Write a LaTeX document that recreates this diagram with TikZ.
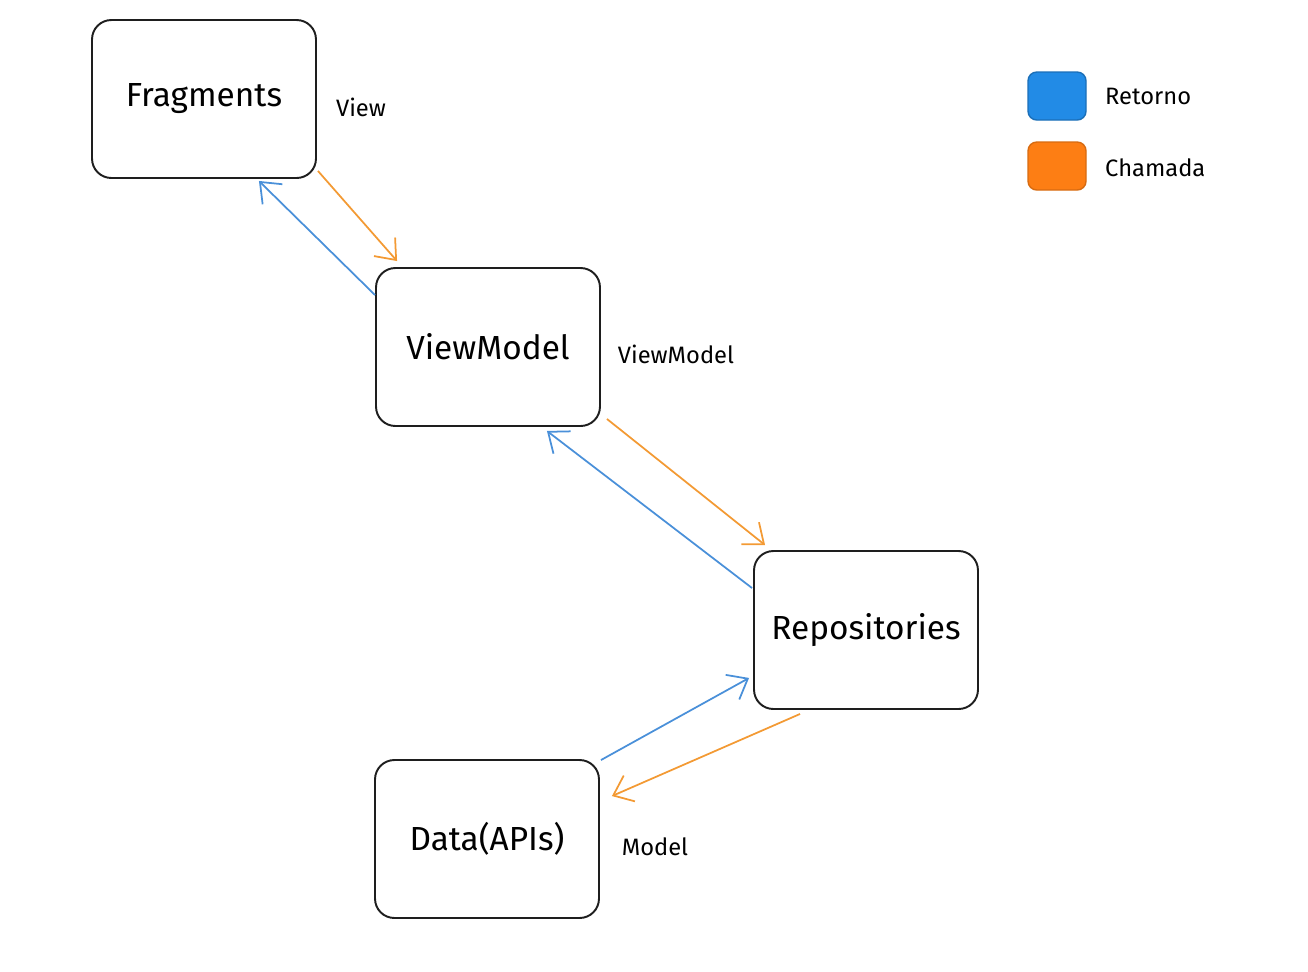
\documentclass[tikz,border=0pt]{standalone}
\usepackage{fontspec}
\setmainfont{Fira Sans}
\usetikzlibrary{calc, arrows.meta}

\definecolor{retornoBlue}{HTML}{228BE6}
\definecolor{chamadaOrange}{HTML}{FD7E14}
\definecolor{lineBlue}{HTML}{4A90D9}
\definecolor{lineOrange}{HTML}{F39A34}
\definecolor{inkGray}{HTML}{1E1E1E}

\tikzset{
    layer/.style={draw=inkGray, line width=1.1pt, rounded corners=11pt, minimum width=4.48cm, minimum height=3.16cm, font=\fontsize{19}{22}\selectfont},
    tag/.style={font=\fontsize{13.5}{16}\selectfont, anchor=center},
    swatch/.style={rounded corners=5pt, minimum width=1.16cm, minimum height=0.96cm, line width=0.8pt},
    retorno/.style={lineBlue, line width=1pt, -{Straight Barb[length=10pt, width=16pt]}},
    chamada/.style={lineOrange, line width=1pt, -{Straight Barb[length=10pt, width=16pt]}}
}

\begin{document}
\begin{tikzpicture}[x=0.02cm, y=-0.02cm]

\useasboundingbox (0,0) rectangle (1308,971);

% Layer boxes
\node[layer] (frag) at (204,99) {Fragments};
\node[layer] (vm) at (488,347) {ViewModel};
\node[layer] (repo) at (866,630) {Repositories};
\node[layer] (data) at (487,839) {Data(APIs)};

% Layer tags
\node[tag] (tagView) at (361,107) {View};
\node[tag] (tagVM) at (676,354) {ViewModel};
\node[tag] (tagModel) at (655,847) {Model};

% Legend
\node[swatch, fill=retornoBlue, draw=retornoBlue!80!black] (keyBlue) at (1057,96) {};
\node[swatch, fill=chamadaOrange, draw=chamadaOrange!85!black] (keyOrange) at (1057,166) {};
\node[tag, anchor=west] (txtRetorno) at (1099,96) {Retorno};
\node[tag, anchor=west] (txtChamada) at (1099,168) {Chamada};

% Chamada arrows (orange)
\draw[chamada] ($(frag.south east)+(1,-8)$) -- ($(vm.north west)+(22,-6)$);
\draw[chamada] ($(vm.south east)+(6,-8)$) -- ($(repo.north west)+(12,-5)$);
\draw[chamada] ($(repo.south west)+(47,4)$) -- ($(data.north east)+(12,37)$);

% Retorno arrows (blue)
\draw[retorno] ($(vm.north west)+(0,28)$) -- ($(frag.south east)+(-58,2)$);
\draw[retorno] ($(repo.north west)+(-1,38)$) -- ($(vm.south east)+(-54,4)$);
\draw[retorno] ($(data.north east)+(1,1)$) -- ($(repo.south west)+(-4,-32)$);

\end{tikzpicture}
\end{document}
